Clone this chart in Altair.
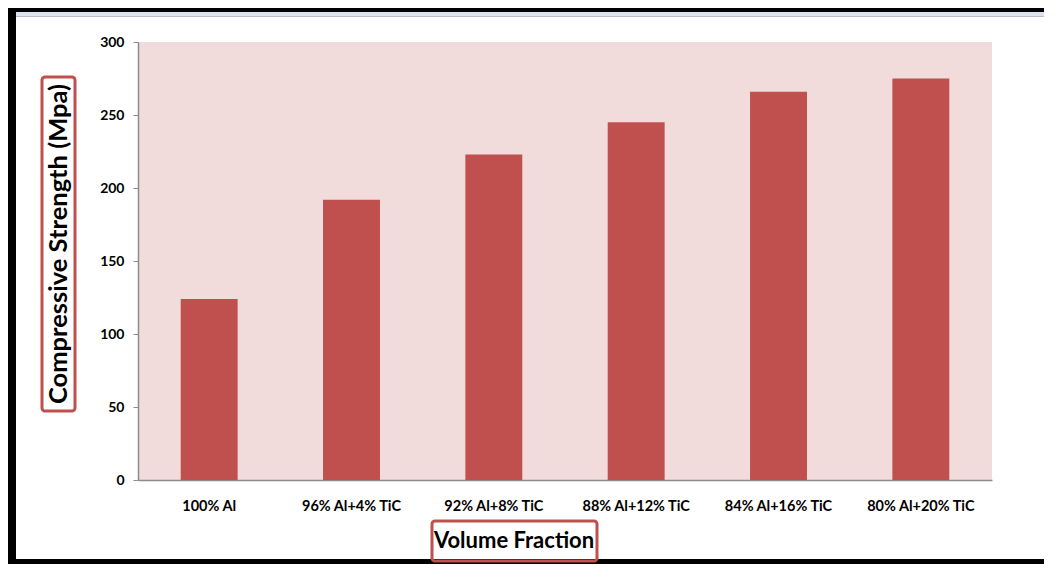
import altair as alt
import pandas as pd

categories = ["100% Al", "96% Al+4% TiC", "92% Al+8% TiC", "88% Al+12% TiC", "84% Al+16% TiC", "80% Al+20% TiC"]
strength = [124, 192, 223, 245, 266, 275]
y_title = "Compressive Strength (Mpa)"
x_title = "Volume Fraction"

df = pd.DataFrame({"cat": categories, "val": strength})

W, H = 854, 438
PL, PT = 130, 34
FONT = "Lato"
RED = "#C0504D"

bars = alt.Chart(df).mark_bar(color=RED).encode(
    x=alt.X("cat:N", sort=categories, title=None,
            scale=alt.Scale(paddingInner=0.6, paddingOuter=0.3),
            axis=alt.Axis(labelAngle=0, ticks=False, domainColor="#8c8c8c", domainWidth=1.5,
                          labelFont=FONT, labelFontWeight="bold", labelFontSize=14.5,
                          labelColor="#000000", labelPadding=19)),
    y=alt.Y("val:Q", title=None,
            scale=alt.Scale(domain=[0, 300], nice=False),
            axis=alt.Axis(values=[0, 50, 100, 150, 200, 250, 300], grid=False,
                          domainColor="#8c8c8c", domainWidth=1.5, tickColor="#8c8c8c", tickSize=5,
                          labelFont=FONT, labelFontWeight="bold", labelFontSize=14,
                          labelColor="#000000", labelPadding=9)),
)

one = pd.DataFrame({"t": [""]})

def rect(x1, x2, y1, y2, fill=None, stroke=None, sw=0, r=0):
    kw = {"fill": fill if fill else "transparent"}
    if stroke:
        kw["stroke"] = stroke
        kw["strokeWidth"] = sw
    return alt.Chart(one).mark_rect(cornerRadius=r, **kw).encode(
        x=alt.value(x1), x2=alt.value(x2), y=alt.value(y1), y2=alt.value(y2))

# frame (page coords -> plot coords: X = px - 138, Y = py - 42)
top_bar = rect(-130, 910, -34, -30, fill="#000000")
left_bar = rect(-130, -122, -34, 522, fill="#000000")
bottom_bar = rect(-130, 910, 517, 522, fill="#000000")
strip = rect(-122, 910, -30, -26, fill="#dde3ee")
strip_line = rect(-122, 910, -26, -25, fill="#b8bcc4")

ybox = rect(42 - 138, 75 - 138, 77 - 42, 411 - 42, stroke=RED, sw=3, r=3)
xbox = rect(432 - 138, 597 - 138, 521 - 42, 561 - 42, stroke=RED, sw=3, r=3)

ytext = alt.Chart(pd.DataFrame({"t": [y_title]})).mark_text(
    font=FONT, fontWeight="bold", fontSize=25.5, angle=270, color="#000000",
    align="center", baseline="middle").encode(
    x=alt.value(59 - 138), y=alt.value(244 - 42), text="t")
xtext = alt.Chart(pd.DataFrame({"t": [x_title]})).mark_text(
    font=FONT, fontWeight="bold", fontSize=22, color="#000000",
    align="center", baseline="middle").encode(
    x=alt.value(514 - 138), y=alt.value(541 - 42), text="t")

chart = alt.layer(bars, top_bar, left_bar, bottom_bar, strip, strip_line, ybox, xbox, ytext, xtext).properties(
    width=W, height=H,
    autosize=alt.AutoSizeParams(type="none"),
    padding={"left": PL, "top": PT, "right": 52, "bottom": 84},
    background="#ffffff",
).configure_view(fill="#F2DCDB", stroke=None)

chart.save("out.html", embed_options={"renderer": "svg", "actions": False})
